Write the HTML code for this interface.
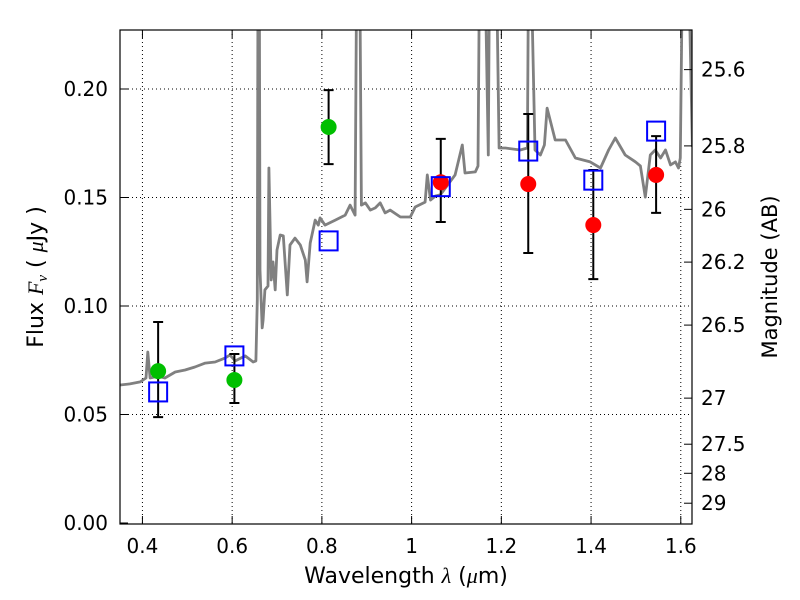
<!DOCTYPE html>
<html><head><meta charset="utf-8"><style>
body{margin:0;background:#fff}
svg{display:block;font-family:"DejaVu Sans","Liberation Sans",sans-serif}
</style></head><body>
<svg id="chart" width="800" height="600" xml:space="preserve">
<defs><clipPath id="clip"><rect x="120" y="30" width="572" height="494"/></clipPath></defs>
<rect x="0" y="0" width="800" height="600" fill="#fff"/>
<g id="grid"></g>
<g id="spec" clip-path="url(#clip)"></g>
<g id="marks"></g>
<rect x="120" y="30" width="572" height="494" fill="none" stroke="#000" stroke-width="1.2"/>
<g id="axes"></g>
<text x="406" y="583" text-anchor="middle" font-size="22">Wavelength  <tspan font-style="italic" font-family="Liberation Serif,serif">λ</tspan> (<tspan font-style="italic" font-family="Liberation Serif,serif">μ</tspan>m)</text>
<text transform="translate(43,277) rotate(-90)" text-anchor="middle" font-size="22">Flux  <tspan font-style="italic" font-family="Liberation Serif,serif">F</tspan><tspan font-style="italic" font-size="15" dy="4" font-family="Liberation Serif,serif">ν</tspan><tspan dy="-4">   (  </tspan><tspan font-style="italic" font-family="Liberation Serif,serif">μ</tspan>Jy )</text>
<text transform="translate(777,277) rotate(-90)" text-anchor="middle" font-size="21">Magnitude (AB)</text>
</svg>
<script>
const specWave=[0.350,0.372,0.395,0.408,0.412,0.417,0.435,0.450,0.473,0.495,0.517,0.540,0.562,0.584,0.595,0.607,0.629,0.647,0.653,0.656,0.658,0.660,0.662,0.667,0.669,0.673,0.680,0.682,0.687,0.691,0.696,0.700,0.707,0.714,0.723,0.729,0.740,0.752,0.763,0.767,0.774,0.785,0.792,0.796,0.807,0.830,0.852,0.863,0.874,0.879,0.883,0.888,0.897,0.908,0.919,0.930,0.941,0.952,0.975,0.997,1.008,1.030,1.035,1.042,1.053,1.064,1.097,1.113,1.119,1.142,1.148,1.153,1.160,1.171,1.175,1.186,1.195,1.209,1.242,1.258,1.262,1.275,1.287,1.296,1.302,1.320,1.343,1.365,1.398,1.421,1.439,1.454,1.476,1.499,1.510,1.521,1.532,1.543,1.555,1.566,1.577,1.588,1.595,1.599,1.606,1.613,1.626];
const specFlux=[0.0636,0.0641,0.065,0.0668,0.0788,0.0668,0.0677,0.0668,0.0696,0.0705,0.0719,0.0737,0.0742,0.076,0.0774,0.0747,0.077,0.0742,0.0747,0.1028,0.3,0.3,0.1166,0.0899,0.0935,0.1074,0.1092,0.1636,0.112,0.1203,0.1074,0.1258,0.1327,0.1323,0.1051,0.1281,0.1313,0.1281,0.1212,0.1111,0.129,0.1396,0.1373,0.1406,0.1373,0.1396,0.1419,0.1465,0.1419,0.3,0.3,0.1465,0.1475,0.1442,0.1452,0.1475,0.1429,0.1442,0.141,0.141,0.1456,0.1479,0.1604,0.1488,0.1507,0.1512,0.1604,0.1742,0.1613,0.1618,0.1645,0.3,0.3,0.1696,0.3,0.3,0.1728,0.1728,0.1719,0.1728,0.3,0.1719,0.1696,0.1742,0.1912,0.1765,0.1765,0.1682,0.1664,0.1636,0.1719,0.1774,0.1696,0.1664,0.1645,0.1502,0.1696,0.1719,0.1682,0.1719,0.1650,0.1664,0.1636,0.1682,0.3,0.3,0.1733,0.1733];
const greenWave=[0.435,0.605,0.815];
const greenFlux=[0.0700,0.0659,0.1825];
const greenLo=[0.0488,0.0553,0.1654];
const greenHi=[0.0926,0.0779,0.1995];
const redWave=[1.065,1.26,1.405,1.545];
const redFlux=[0.157,0.1562,0.1373,0.1604];
const redLo=[0.1387,0.1244,0.1124,0.1429];
const redHi=[0.177,0.1885,0.1627,0.1783];
const blueWave=[0.435,0.605,0.815,1.065,1.26,1.405,1.545];
const blueFlux=[0.0604,0.077,0.130,0.155,0.1714,0.158,0.1806];
const xTicks=[0.4,0.6,0.8,1.0,1.2,1.4,1.6];
const xTickLabels=["0.4","0.6","0.8","1","1.2","1.4","1.6"];
const yTicks=[0,0.05,0.10,0.15,0.20];
const yTickLabels=["0.00","0.05","0.10","0.15","0.20"];
const magTicks=[25.6,25.8,26,26.2,26.5,27,27.5,28,29];
const magTickLabels=["25.6","25.8","26","26.2","26.5","27","27.5","28","29"];

const X0=0.35,X1=1.625,PX0=120,PX1=692,PY0=523,PY1=30,YMAX=(523-30)/2170;
const sx=v=>PX0+(v-X0)/(X1-X0)*(PX1-PX0);
const sy=v=>PY0-v/YMAX*(PY0-PY1);
const NS='http://www.w3.org/2000/svg';
function mk(tag,attrs,parent){const e=document.createElementNS(NS,tag);for(const k in attrs)e.setAttribute(k,attrs[k]);parent.appendChild(e);return e;}
const grid=document.getElementById('grid'),axes=document.getElementById('axes'),spec=document.getElementById('spec'),marks=document.getElementById('marks');

xTicks.forEach((t,i)=>{const x=sx(t);
 let g=mk('line',{x1:x,x2:x,y1:30,y2:524,stroke:'#000','stroke-width':1,'stroke-dasharray':'1,3'},grid);
 
 mk('line',{x1:x,x2:x,y1:524,y2:516,stroke:'#000'},axes);
 mk('line',{x1:x,x2:x,y1:30,y2:38,stroke:'#000'},axes);
 let tx=mk('text',{x:x,y:553,'text-anchor':'middle','font-size':20},axes);tx.textContent=xTickLabels[i];
 });
yTicks.forEach((t,i)=>{const y=sy(t);
 if(t>0){let g=mk('line',{x1:120,x2:692,y1:y,y2:y,stroke:'#000','stroke-width':1,'stroke-dasharray':'1,3'},grid);
 }
 mk('line',{x1:120,x2:128,y1:y,y2:y,stroke:'#000'},axes);
 let tx=mk('text',{x:108,y:y+7,'text-anchor':'end','font-size':20},axes);tx.textContent=yTickLabels[i];
 });
magTicks.forEach((m,i)=>{const y=sy(Math.pow(10,(23.9-m)/2.5));
 mk('line',{x1:692,x2:684,y1:y,y2:y,stroke:'#000'},axes);
 let tx=mk('text',{x:701,y:y+7,'font-size':20},axes);tx.textContent=magTickLabels[i];
 });

let d=specWave.map((w,i)=>(i?'L':'M')+sx(w).toFixed(1)+','+sy(specFlux[i]).toFixed(1)).join('');
let sp=mk('path',{d:d,fill:'none',stroke:'#808080','stroke-width':2.8,'stroke-linejoin':'round'},spec);


function errbar(w,lo,hi){const x=sx(w),a=sy(lo),b=sy(hi);
 let g=mk('path',{d:`M${x},${a}V${b}M${x-5},${a}H${x+5}M${x-5},${b}H${x+5}`,stroke:'#000','stroke-width':2,fill:'none'},marks);
 }
greenWave.forEach((w,i)=>errbar(w,greenLo[i],greenHi[i]));
redWave.forEach((w,i)=>errbar(w,redLo[i],redHi[i]));
greenWave.forEach((w,i)=>{let c=mk('circle',{cx:sx(w),cy:sy(greenFlux[i]),r:8,fill:'#00bf00'},marks);
 });
redWave.forEach((w,i)=>{let c=mk('circle',{cx:sx(w),cy:sy(redFlux[i]),r:8,fill:'#ff0000'},marks);
 });
blueWave.forEach((w,i)=>{let r=mk('rect',{x:sx(w)-9,y:sy(blueFlux[i])-9.5,width:18,height:19,fill:'none',stroke:'#0000ff','stroke-width':2},marks);
 });
</script>
</body></html>
